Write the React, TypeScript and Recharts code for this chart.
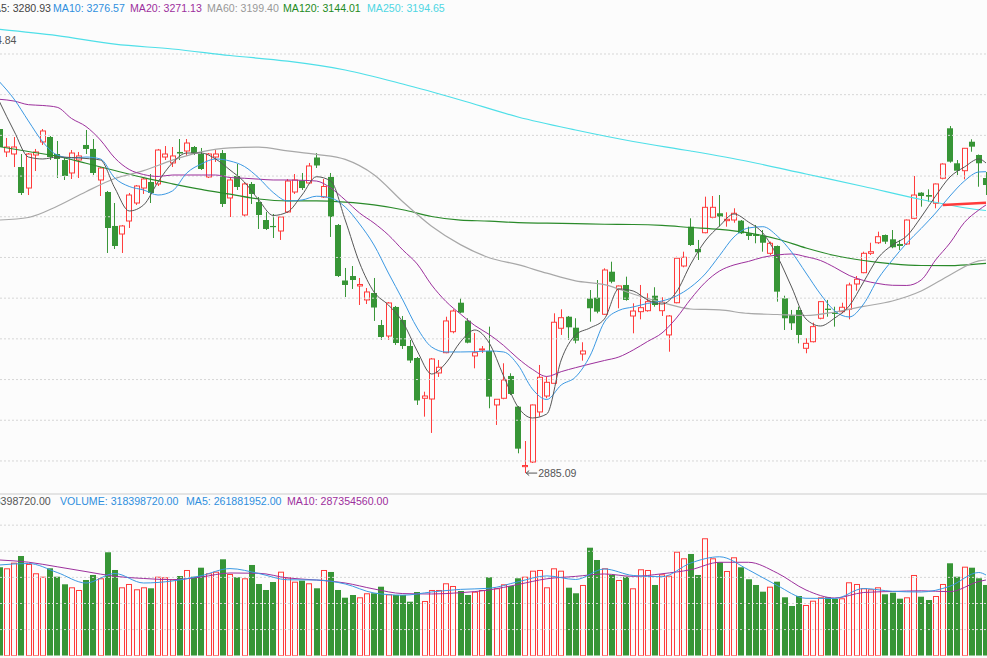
import { ComposedChart, Bar, Line, XAxis, YAxis, ReferenceLine, ReferenceDot } from "recharts";

// daily candles, left to right as they appear in the window
const opens = [
  3307.8, 3279.6, 3277.1, 3261.1, 3235.3, 3275.9, 3291.9, 3298.0, 3277.1, 3269.7,
  3253.8, 3269.7, 3288.2, 3283.3, 3245.2, 3230.4, 3188.7, 3178.8, 3194.8, 3216.9,
  3235.3, 3242.7, 3240.3, 3273.4, 3266.1, 3279.6, 3280.8, 3285.7, 3277.1, 3248.9,
  3273.4, 3278.3, 3223.1, 3250.1, 3202.2, 3240.3, 3218.1, 3196.0, 3188.7, 3182.5,
  3205.9, 3230.4, 3244.6, 3241.5, 3272.8, 3224.3, 3248.9, 3189.9, 3121.7, 3127.2,
  3115.0, 3097.8, 3106.4, 3067.0, 3053.5, 3089.2, 3073.2, 3041.2, 3026.5, 2977.0,
  2976.1, 3008.1, 3033.0, 3058.8, 3094.4, 3072.3, 3029.0, 3036.3, 3035.1, 2968.8,
  2977.0, 3004.4, 2966.7, 2893.0, 2898.7, 2960.2, 2979.8, 2995.4, 3063.0, 3077.2,
  3063.7, 3031.4, 3099.6, 3100.6, 3080.2, 3132.5, 3110.9, 3116.2, 3078.1, 3083.4,
  3084.6, 3103.0, 3084.6, 3054.8, 3094.4, 3139.5, 3187.8, 3160.4, 3180.4, 3199.4,
  3204.3, 3195.2, 3196.0, 3195.2, 3179.7, 3178.5, 3176.4, 3155.1, 3164.1, 3099.8,
  3079.3, 3085.5, 3038.4, 3046.5, 3075.3, 3087.1, 3082.2, 3083.4, 3086.3, 3117.4,
  3131.3, 3155.1, 3168.1, 3177.6, 3172.3, 3166.6, 3166.6, 3198.1, 3229.6, 3226.7,
  3216.6, 3247.3, 3308.7, 3265.7, 3256.6, 3292.2, 3275.9, 3247.6,
];
const highs = [
  3320.1, 3296.8, 3298.0, 3277.1, 3278.3, 3283.3, 3307.8, 3299.2, 3293.1, 3273.4,
  3282.0, 3279.6, 3306.6, 3295.5, 3261.1, 3231.7, 3216.9, 3189.9, 3229.2, 3239.0,
  3248.9, 3252.5, 3283.3, 3286.9, 3285.7, 3295.5, 3295.5, 3286.9, 3284.5, 3278.3,
  3282.0, 3282.0, 3248.9, 3264.8, 3242.7, 3242.7, 3224.3, 3205.9, 3203.4, 3200.9,
  3246.4, 3252.5, 3253.8, 3266.1, 3278.3, 3246.4, 3253.8, 3191.1, 3137.1, 3139.5,
  3124.8, 3112.5, 3124.8, 3073.2, 3095.3, 3090.4, 3078.1, 3048.6, 3027.7, 2985.1,
  3026.5, 3024.0, 3077.2, 3086.3, 3099.8, 3075.3, 3057.2, 3041.2, 3065.0, 2976.1,
  3020.0, 3007.7, 2967.5, 2924.5, 2969.4, 3017.9, 3003.5, 3081.4, 3086.3, 3078.1,
  3075.3, 3045.8, 3110.0, 3122.3, 3136.7, 3144.8, 3115.6, 3126.4, 3093.7, 3116.2,
  3106.0, 3113.4, 3101.1, 3079.3, 3150.9, 3157.1, 3198.1, 3171.5, 3224.7, 3225.5,
  3226.7, 3205.5, 3210.4, 3196.0, 3187.8, 3189.9, 3183.7, 3169.4, 3164.7, 3103.0,
  3085.5, 3089.5, 3050.7, 3069.9, 3096.3, 3097.8, 3089.5, 3094.4, 3119.0, 3127.2,
  3157.1, 3168.1, 3181.7, 3178.2, 3183.7, 3171.5, 3196.6, 3250.1, 3230.2, 3233.7,
  3240.9, 3265.7, 3311.5, 3269.7, 3284.5, 3295.2, 3276.5, 3255.0,
];
const lows = [
  3278.3, 3273.4, 3261.1, 3226.7, 3226.7, 3256.2, 3288.2, 3269.7, 3247.6, 3245.2,
  3246.4, 3247.6, 3277.1, 3251.3, 3225.5, 3155.5, 3160.4, 3155.5, 3186.2, 3214.5,
  3228.0, 3216.9, 3237.8, 3269.7, 3261.1, 3269.7, 3274.7, 3275.9, 3257.5, 3247.6,
  3267.3, 3212.0, 3199.7, 3232.9, 3199.7, 3215.7, 3185.0, 3183.7, 3173.9, 3171.5,
  3204.6, 3228.0, 3232.9, 3240.3, 3259.9, 3223.1, 3175.2, 3126.0, 3101.4, 3111.3,
  3091.6, 3092.8, 3072.0, 3048.6, 3048.6, 3042.5, 3037.6, 3020.4, 2968.8, 2954.4,
  2934.4, 3003.2, 3032.3, 3056.8, 3081.4, 3044.5, 3013.8, 3032.6, 2964.7, 2944.2,
  2975.8, 2981.0, 2909.4, 2885.09, 2897.5, 2954.4, 2977.0, 2995.2, 3054.8, 3048.6,
  3044.5, 3023.2, 3071.1, 3081.4, 3079.3, 3118.3, 3087.6, 3096.9, 3056.8, 3074.0,
  3083.4, 3089.5, 3078.1, 3034.2, 3093.7, 3137.9, 3164.1, 3146.9, 3179.7, 3198.1,
  3187.8, 3187.8, 3192.7, 3178.8, 3171.5, 3167.4, 3157.1, 3153.0, 3095.7, 3060.9,
  3060.9, 3044.5, 3032.3, 3045.6, 3074.0, 3077.2, 3065.0, 3081.4, 3074.0, 3109.2,
  3130.6, 3153.0, 3166.6, 3166.6, 3161.3, 3159.2, 3165.3, 3196.9, 3212.4, 3218.5,
  3210.4, 3246.0, 3266.4, 3251.3, 3246.0, 3279.9, 3236.9, 3226.7,
];
const closes = [
  3285.7, 3285.7, 3285.7, 3229.2, 3277.1, 3279.6, 3305.4, 3273.4, 3271.0, 3250.1,
  3278.3, 3274.7, 3283.3, 3253.8, 3259.9, 3186.2, 3164.1, 3188.7, 3226.7, 3237.8,
  3246.4, 3229.2, 3282.0, 3277.1, 3274.7, 3277.7, 3290.6, 3278.3, 3258.7, 3277.1,
  3277.1, 3215.7, 3245.2, 3236.6, 3240.3, 3228.0, 3202.2, 3185.0, 3187.4, 3199.7,
  3243.9, 3245.2, 3235.3, 3262.4, 3263.0, 3237.2, 3199.7, 3127.2, 3116.2, 3122.3,
  3116.8, 3107.6, 3088.5, 3052.3, 3094.1, 3044.9, 3041.2, 3023.4, 2974.3, 2979.8,
  3025.3, 3015.1, 3072.0, 3084.2, 3082.2, 3045.3, 3033.0, 3037.6, 2979.0, 2975.8,
  2999.5, 2982.3, 2915.1, 2894.4, 2968.8, 3002.8, 2996.6, 3070.4, 3076.0, 3064.2,
  3047.8, 3035.1, 3087.6, 3083.4, 3134.6, 3120.2, 3115.0, 3097.8, 3084.2, 3088.3,
  3095.7, 3091.6, 3094.9, 3078.1, 3149.0, 3150.2, 3165.3, 3156.4, 3211.6, 3211.6,
  3200.1, 3196.9, 3204.3, 3179.7, 3176.4, 3176.4, 3168.1, 3167.4, 3108.0, 3075.3,
  3069.1, 3054.8, 3044.5, 3065.0, 3095.7, 3085.5, 3080.6, 3088.8, 3116.2, 3123.2,
  3155.1, 3157.1, 3175.5, 3169.4, 3162.5, 3164.1, 3196.0, 3226.7, 3225.5, 3224.7,
  3240.3, 3264.8, 3267.7, 3256.6, 3284.1, 3286.1, 3265.7, 3239.0,
];
// volume, millions of shares
const volumes = [
  338.7, 334.8, 356.3, 381.9, 351.3, 315.7, 302.6, 334.8, 302.6, 273.5,
  262.0, 251.7, 290.0, 309.2, 296.5, 396.1, 328.3, 262.0, 274.7, 254.4,
  262.0, 258.2, 302.6, 300.4, 292.7, 305.3, 328.3, 302.6, 337.1, 315.7,
  321.8, 369.3, 313.0, 300.4, 296.5, 347.5, 274.7, 251.7, 282.3, 321.8,
  300.4, 283.5, 287.3, 277.4, 258.2, 328.3, 320.7, 251.7, 222.2, 232.5,
  223.7, 239.1, 239.1, 264.3, 235.2, 232.5, 232.5, 206.9, 244.0, 209.6,
  251.7, 251.7, 277.4, 267.0, 247.9, 232.5, 245.2, 251.7, 300.4, 258.2,
  273.5, 267.0, 296.5, 302.6, 325.6, 328.3, 262.0, 334.8, 325.6, 260.5,
  239.1, 270.9, 413.7, 366.6, 334.8, 309.2, 290.0, 302.6, 258.2, 331.0,
  328.3, 270.9, 311.8, 306.5, 398.4, 373.1, 389.6, 309.2, 449.8, 373.1,
  357.8, 324.5, 377.0, 338.7, 292.7, 270.9, 245.2, 264.3, 283.5, 223.7,
  190.4, 228.7, 194.2, 210.7, 223.7, 223.7, 217.2, 219.9, 281.2, 274.7,
  258.2, 254.4, 262.0, 235.2, 241.4, 218.4, 223.7, 309.2, 226.0, 213.4,
  228.7, 274.7, 354.0, 302.6, 341.0, 337.1, 296.5, 270.9,
];

// moving averages: [candle index, value]
const ma5 = [
  [0, 3341.0], [2, 3305.4], [4, 3273.4], [6, 3271.0], [8, 3273.4], [10, 3272.8], [12, 3271.6], [14, 3269.7],
  [16, 3235.3], [18, 3207.1], [20, 3214.5], [22, 3242.7], [24, 3266.1], [26, 3278.3], [28, 3278.3], [30, 3271.0],
  [32, 3257.5], [34, 3242.7], [36, 3220.6], [38, 3201.6], [40, 3205.9], [42, 3226.7], [44, 3249.2], [46, 3243.9],
  [48, 3196.0], [50, 3143.2], [52, 3107.6], [54, 3091.6], [56, 3070.7], [58, 3035.1], [60, 3006.8], [62, 3020.4],
  [64, 3046.2], [66, 3060.9], [68, 3044.9], [70, 3004.4], [72, 2966.3], [74, 2952.8], [76, 2957.7], [78, 3024.0],
  [80, 3054.8], [82, 3063.4], [84, 3074.4], [86, 3111.3], [88, 3108.8], [90, 3097.8], [92, 3092.8], [94, 3107.6],
  [96, 3142.0], [98, 3170.2], [100, 3188.7], [102, 3203.4], [104, 3193.6], [106, 3180.1], [108, 3151.8], [110, 3113.7],
  [112, 3074.4], [114, 3065.8], [116, 3075.6], [118, 3090.4], [120, 3119.9], [122, 3149.4], [124, 3165.3], [126, 3176.4],
  [128, 3199.7], [130, 3225.5], [132, 3248.9], [134, 3261.1], [136, 3271.0], [137, 3266.1],
];
const ma10 = [
  [0, 3365.6], [2, 3344.7], [4, 3317.7], [6, 3291.9], [8, 3275.9], [10, 3272.2], [12, 3273.4], [14, 3271.0],
  [16, 3247.6], [18, 3237.2], [20, 3232.9], [22, 3226.7], [24, 3231.7], [26, 3253.8], [28, 3264.8], [30, 3271.0],
  [32, 3268.5], [34, 3261.8], [36, 3247.6], [38, 3229.8], [40, 3219.4], [42, 3220.6], [44, 3225.2], [46, 3223.1],
  [48, 3212.0], [50, 3191.1], [52, 3165.3], [54, 3130.9], [56, 3097.8], [58, 3063.4], [60, 3040.0], [62, 3033.9],
  [64, 3033.9], [66, 3034.2], [68, 3035.1], [70, 3033.9], [72, 3017.9], [74, 2988.4], [76, 2975.5], [78, 2993.3],
  [80, 3003.2], [82, 3029.0], [84, 3070.7], [86, 3084.9], [88, 3089.2], [90, 3093.5], [92, 3096.5], [94, 3102.7],
  [96, 3113.7], [98, 3129.7], [100, 3152.4], [102, 3175.2], [104, 3186.2], [106, 3187.8], [108, 3176.4], [110, 3156.7],
  [112, 3130.9], [114, 3105.1], [116, 3084.2], [118, 3076.9], [120, 3092.8], [122, 3123.6], [124, 3146.9], [126, 3167.8],
  [128, 3185.6], [130, 3204.6], [132, 3225.5], [134, 3243.9], [136, 3255.0], [137, 3255.4],
];
const ma20 = [
  [0, 3344.3], [2, 3342.2], [4, 3337.7], [6, 3336.7], [8, 3334.5], [10, 3320.7], [12, 3310.9], [14, 3294.3],
  [16, 3272.2], [18, 3258.1], [20, 3251.9], [22, 3249.5], [24, 3251.3], [26, 3251.3], [28, 3251.3], [30, 3251.3],
  [32, 3248.2], [34, 3247.3], [36, 3246.2], [38, 3245.2], [40, 3245.2], [42, 3244.8], [44, 3243.9], [46, 3235.3],
  [48, 3220.6], [50, 3204.6], [52, 3192.3], [54, 3177.6], [56, 3159.2], [58, 3142.0], [60, 3116.2], [62, 3095.9],
  [64, 3080.6], [66, 3066.4], [68, 3055.4], [70, 3041.9], [72, 3025.9], [74, 3012.6], [76, 3003.8], [78, 3009.7],
  [80, 3014.6], [82, 3019.1], [84, 3023.4], [86, 3027.7], [88, 3036.3], [90, 3046.8], [92, 3057.2], [94, 3075.6],
  [96, 3099.0], [98, 3119.3], [100, 3133.4], [102, 3140.8], [104, 3145.1], [106, 3150.2], [108, 3153.0], [110, 3154.3],
  [112, 3150.9], [114, 3146.3], [116, 3137.7], [118, 3127.9], [120, 3121.7], [122, 3118.0], [124, 3115.8], [126, 3115.6],
  [128, 3122.3], [130, 3146.9], [132, 3167.8], [134, 3193.0], [136, 3208.3], [137, 3214.5],
];
const ma60 = [
  [0, 3196.0], [4, 3199.1], [8, 3212.9], [12, 3230.8], [16, 3247.0], [20, 3256.6], [24, 3269.5], [28, 3279.7],
  [32, 3284.7], [36, 3285.5], [40, 3281.0], [44, 3276.7], [48, 3270.5], [52, 3251.7], [56, 3218.5], [60, 3188.4],
  [64, 3165.8], [68, 3149.7], [72, 3141.1], [76, 3130.7], [80, 3121.3], [84, 3116.6], [88, 3105.1], [92, 3094.7],
  [96, 3086.7], [100, 3085.5], [104, 3081.2], [108, 3079.9], [112, 3078.7], [116, 3083.0], [120, 3089.8], [124, 3096.5],
  [128, 3108.8], [132, 3128.5], [136, 3145.7], [137, 3146.9],
];
const ma120 = [
  [0, 3286.1], [4, 3280.2], [8, 3274.3], [12, 3265.7], [16, 3256.8], [20, 3248.0], [24, 3240.5], [28, 3233.6],
  [32, 3227.7], [36, 3221.8], [40, 3219.4], [44, 3219.4], [48, 3217.9], [52, 3214.5], [56, 3208.6], [60, 3200.3],
  [64, 3195.8], [68, 3194.7], [72, 3192.8], [76, 3192.1], [80, 3191.5], [84, 3190.8], [88, 3190.5], [92, 3189.3],
  [96, 3186.8], [100, 3184.4], [104, 3180.1], [108, 3172.7], [112, 3161.6], [116, 3152.4], [120, 3146.3], [124, 3142.2],
  [128, 3140.1], [132, 3139.9], [136, 3142.0], [137, 3142.8],
];
const ma250 = [
  [0, 3430.3], [8, 3422.6], [16, 3412.0], [24, 3406.1], [32, 3398.1], [40, 3391.1], [48, 3380.3], [56, 3363.1],
  [64, 3343.5], [72, 3322.6], [80, 3306.6], [88, 3292.5], [96, 3280.8], [104, 3267.9], [112, 3252.5], [120, 3237.2],
  [128, 3221.2], [136, 3208.6], [137, 3207.7],
];
const volMa5 = [
  [0, 347.5], [4, 353.2], [8, 318.7], [12, 278.5], [16, 314.9], [20, 278.5], [24, 286.2], [28, 306.5],
  [32, 333.7], [36, 314.9], [40, 290.8], [44, 290.0], [48, 274.7], [52, 240.2], [56, 231.8], [60, 244.0],
  [64, 254.0], [68, 258.2], [72, 283.1], [76, 305.7], [80, 291.9], [84, 332.1], [88, 307.2], [92, 302.6],
  [96, 355.1], [100, 378.9], [104, 329.1], [108, 268.9], [112, 219.9], [116, 219.1], [120, 257.4], [124, 246.7],
  [128, 244.0], [132, 266.3], [136, 318.7], [137, 309.2],
];
const volMa10 = [
  [0, 366.6], [4, 358.2], [8, 340.6], [12, 322.2], [16, 304.2], [20, 295.8], [24, 291.2], [28, 301.5],
  [32, 316.8], [36, 315.7], [40, 297.7], [44, 290.0], [48, 278.5], [52, 255.5], [56, 237.9], [60, 236.4],
  [64, 241.4], [68, 251.7], [72, 272.8], [76, 294.6], [80, 303.8], [84, 313.0], [88, 303.8], [92, 313.8],
  [96, 329.5], [100, 357.8], [104, 357.8], [108, 316.8], [112, 251.7], [116, 221.0], [120, 242.1], [124, 246.0],
  [128, 248.6], [132, 245.2], [136, 284.3], [137, 290.0],
];

const priceTicks = [2900, 2950, 3000, 3050, 3100, 3150, 3200, 3250, 3300, 3350, 3400];
const volumeTicks = [100, 200, 300, 400, 500];
const lowestLow = 2885.09;
const highLabel = "3414.84";
const trendLine = [
  { x: 131, y: 3214.5 },
  { x: 137, y: 3217.3 },
];

const RED = "#ff3b3b";
const GREEN = "#379536";
const BG = "#fcfcfc";
const GRID = "#d6d6d6";
const FONT = "'Liberation Sans', Arial, sans-serif";

const rows: any[] = opens.map((open, i) => ({
  idx: i,
  open,
  high: highs[i],
  low: lows[i],
  close: closes[i],
  range: [lows[i], highs[i]],
  volume: volumes[i],
  up: closes[i] >= open,
}));
const attach = (key: string, points: number[][]) => {
  points.forEach(([i, v]) => {
    rows[i][key] = v;
  });
};
attach("ma5", ma5);
attach("ma10", ma10);
attach("ma20", ma20);
attach("ma60", ma60);
attach("ma120", ma120);
attach("ma250", ma250);
attach("volMa5", volMa5);
attach("volMa10", volMa10);

const BODY = 6;

function Candle(props: any) {
  const { x, y, width, height } = props;
  const d = props.payload || props;
  if (d == null || d.high == null) return null;
  const top = Math.min(y, y + height);
  const bottom = Math.max(y, y + height);
  const k = (bottom - top) / (d.high - d.low);
  const yo = top + (d.high - d.open) * k;
  const yc = top + (d.high - d.close) * k;
  const bt = Math.min(yo, yc);
  const bb = Math.max(yo, yc);
  const cx = x + width / 2;
  const wx = Math.floor(cx) + 0.5;
  const left = Math.round(cx - BODY / 2);
  if (d.up) {
    return (
      <g>
        <line x1={wx} x2={wx} y1={top} y2={bt} stroke={RED} />
        <line x1={wx} x2={wx} y1={bb} y2={bottom} stroke={RED} />
        <rect x={left + 0.5} y={bt} width={BODY - 1} height={Math.max(bb - bt, 0.8)} fill={BG} stroke={RED} />
      </g>
    );
  }
  return (
    <g>
      <line x1={wx} x2={wx} y1={top} y2={bottom} stroke={GREEN} />
      <rect x={left} y={bt} width={BODY} height={Math.max(bb - bt, 1.2)} fill={GREEN} />
    </g>
  );
}

function VolumeBar(props: any) {
  const { x, y, width, height } = props;
  const d = props.payload || props;
  if (d == null || !height) return null;
  const cx = x + width / 2;
  const left = Math.round(cx - BODY / 2);
  if (d.up) {
    return <rect x={left + 0.5} y={y + 0.5} width={BODY - 1} height={height - 0.5} fill={BG} stroke={RED} />;
  }
  return <rect x={left} y={y} width={BODY} height={height} fill={GREEN} />;
}

function LowMarker(props: any) {
  const { cx, cy } = props;
  if (cx == null || cy == null) return null;
  return (
    <g>
      <line x1={cx + 1} x2={cx + 12} y1={cy} y2={cy} stroke="#555" />
      <path d={`M${cx + 4} ${cy - 2.5} L${cx + 1} ${cy} L${cx + 4} ${cy + 2.5}`} fill="none" stroke="#555" />
      <text x={cx + 13} y={cy} dominantBaseline="central" fontSize={10.6} fontFamily={FONT} fill="#555">
        {lowestLow.toFixed(2)}
      </text>
    </g>
  );
}

const topLegend = [
  { text: "MA5: 3280.93", color: "#444", left: -15 },
  { text: "MA10: 3276.57", color: "#2f8fde", left: 53 },
  { text: "MA20: 3271.13", color: "#9c2f9c", left: 130 },
  { text: "MA60: 3199.40", color: "#999", left: 207 },
  { text: "MA120: 3144.01", color: "#228b22", left: 283 },
  { text: "MA250: 3194.65", color: "#4fd6e3", left: 367 },
];
const volLegend = [
  { text: "MA10: 287354560.00", color: "#9c2f9c", left: 287 },
  { text: "MA5: 261881952.00", color: "#2f8fde", left: 186 },
  { text: "VOLUME: 318398720.00", color: "#2f8fde", left: 60 },
];

const W = 993.6; // 138 candles x 7.2px; shifted so the first candle sits on the left edge

export default function App() {
  const label = (extra: any) => ({
    position: "absolute" as const,
    fontFamily: FONT,
    fontSize: 10.6,
    lineHeight: "12px",
    whiteSpace: "nowrap" as const,
    ...extra,
  });
  return (
    <div style={{ position: "fixed", left: 0, top: 0, width: 987, height: 658, overflow: "hidden", background: BG }}>
      <div style={{ position: "absolute", left: -3.6, top: 0 }}>
        <ComposedChart width={W} height={490} data={rows} margin={{ top: 17.34, right: 0, bottom: 8.7, left: 0 }}>
          <XAxis dataKey="idx" hide />
          <YAxis hide domain={[2875, 3445]} allowDataOverflow />
          {priceTicks.map((t) => (
            <ReferenceLine key={t} y={t} stroke={GRID} strokeDasharray="2 2" />
          ))}
          <Bar dataKey="range" shape={<Candle />} isAnimationActive={false} />
          <Line dataKey="ma250" type="monotone" stroke="#4fdfe8" strokeWidth={1.2} dot={false} connectNulls isAnimationActive={false} />
          <Line dataKey="ma120" type="monotone" stroke="#2a8a2a" strokeWidth={1.2} dot={false} connectNulls isAnimationActive={false} />
          <Line dataKey="ma60" type="monotone" stroke="#a8a8a8" strokeWidth={1.2} dot={false} connectNulls isAnimationActive={false} />
          <Line dataKey="ma20" type="monotone" stroke="#9c2f9c" strokeWidth={1} dot={false} connectNulls isAnimationActive={false} />
          <Line dataKey="ma10" type="monotone" stroke="#3a98e2" strokeWidth={1} dot={false} connectNulls isAnimationActive={false} />
          <Line dataKey="ma5" type="monotone" stroke="#555" strokeWidth={1} dot={false} connectNulls isAnimationActive={false} />
          <ReferenceLine segment={trendLine} stroke={RED} strokeWidth={2.5} ifOverflow="visible" />
          <ReferenceDot x={73} y={lowestLow} r={0} ifOverflow="visible" shape={<LowMarker />} />
        </ComposedChart>
      </div>

      <div style={{ position: "absolute", left: 0, top: 493, width: 987, height: 2, background: "#e4e4e4" }} />

      <div style={{ position: "absolute", left: -3.6, top: 495 }}>
        <ComposedChart width={W} height={163} data={rows} margin={{ top: 14.5, right: 0, bottom: 2.3, left: 0 }}>
          <XAxis dataKey="idx" hide />
          <YAxis hide domain={[0, 560]} allowDataOverflow />
          {volumeTicks.map((t) => (
            <ReferenceLine key={t} y={t} stroke={GRID} strokeDasharray="2 2" />
          ))}
          <Bar dataKey="volume" shape={<VolumeBar />} isAnimationActive={false} />
          <Line dataKey="volMa10" type="monotone" stroke="#9c2f9c" strokeWidth={1} dot={false} connectNulls isAnimationActive={false} />
          <Line dataKey="volMa5" type="monotone" stroke="#3a98e2" strokeWidth={1} dot={false} connectNulls isAnimationActive={false} />
        </ComposedChart>
      </div>

      {topLegend.map((l) => (
        <div key={l.text} style={label({ left: l.left, top: 1.5, color: l.color })}>
          {l.text}
        </div>
      ))}
      <div style={label({ right: 987 - 16.5, top: 33.5, color: "#555" })}>{highLabel}</div>

      <div style={label({ right: 987 - 50.7, top: 495, color: "#555" })}>VOL: 318398720.00</div>
      {volLegend.map((l) => (
        <div key={l.text} style={label({ left: l.left, top: 495, color: l.color })}>
          {l.text}
        </div>
      ))}
    </div>
  );
}
